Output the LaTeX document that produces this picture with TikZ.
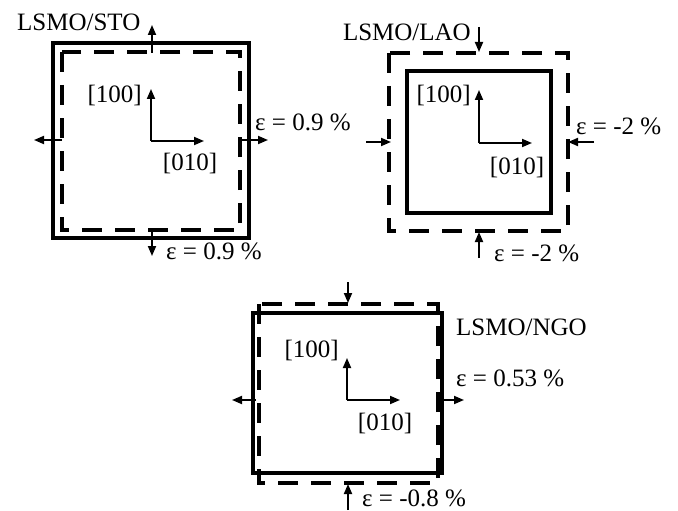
\documentclass[tikz,border=0pt]{standalone}
\usepackage{fontspec}
\setmainfont{Liberation Serif}
\usetikzlibrary{arrows.meta}

\begin{document}
\begin{tikzpicture}[x=1pt,y=-1pt,
  every node/.style={font=\fontsize{25}{29}\selectfont,inner sep=0pt},
  film/.style={line width=4pt},
  subst/.style={line width=4pt,dash pattern=on 20pt off 13pt},
  strain/.style={-{Triangle[length=10pt,width=8pt]},line width=1.8pt},
  axis/.style={-{Triangle[length=10pt,width=8pt]},line width=1.8pt}]
\useasboundingbox (0,0) rectangle (678,511);

% LSMO/STO: tensile
\draw[film] (53,43) rectangle (249,238);
\draw[subst] (62,52) rectangle (240,230);
\coordinate (sto-o) at (151,141);
\coordinate (sto-a) at (151,89);
\coordinate (sto-b) at (204,141);
\draw[axis] (sto-o) -- (sto-a);
\draw[axis] (sto-o) -- (sto-b);
\node[anchor=east] (sto-100) at (142,95) {[100]};
\node (sto-010) at (190,163) {[010]};
\coordinate (sto-t0) at (152,53);  \coordinate (sto-t1) at (152,25);
\coordinate (sto-d0) at (152,229); \coordinate (sto-d1) at (152,256);
\coordinate (sto-l0) at (62,140);  \coordinate (sto-l1) at (34,140);
\coordinate (sto-r0) at (240,140); \coordinate (sto-r1) at (268,140);
\draw[strain] (sto-t0) -- (sto-t1);
\draw[strain] (sto-d0) -- (sto-d1);
\draw[strain] (sto-l0) -- (sto-l1);
\draw[strain] (sto-r0) -- (sto-r1);
\node[anchor=west] (sto-name) at (17,22) {LSMO/STO};
\node[anchor=west] (sto-ex) at (255,122) {ε = 0.9 \%};
\node[anchor=west] (sto-ey) at (166,251) {ε = 0.9 \%};

% LSMO/LAO: compressive
\draw[film] (407,71) rectangle (551,213);
\draw[subst] (389,53) rectangle (568,231);
\coordinate (lao-o) at (479,143);
\coordinate (lao-a) at (479,90);
\coordinate (lao-b) at (532,143);
\draw[axis] (lao-o) -- (lao-a);
\draw[axis] (lao-o) -- (lao-b);
\node[anchor=east] (lao-100) at (471,95) {[100]};
\node (lao-010) at (517,167) {[010]};
\coordinate (lao-t0) at (479,27);  \coordinate (lao-t1) at (479,52);
\coordinate (lao-d0) at (479,258); \coordinate (lao-d1) at (479,232);
\coordinate (lao-l0) at (366,142); \coordinate (lao-l1) at (391,142);
\coordinate (lao-r0) at (594,142); \coordinate (lao-r1) at (568,142);
\draw[strain] (lao-t0) -- (lao-t1);
\draw[strain] (lao-d0) -- (lao-d1);
\draw[strain] (lao-l0) -- (lao-l1);
\draw[strain] (lao-r0) -- (lao-r1);
\node[anchor=east] (lao-name) at (471,32) {LSMO/LAO};
\node[anchor=west] (lao-ex) at (576,126) {ε = -2 \%};
\node[anchor=west] (lao-ey) at (494,253) {ε = -2 \%};

% LSMO/NGO: mixed
\draw[film] (253,313) rectangle (442,473);
\draw[subst] (259,304) rectangle (438,483);
\coordinate (ngo-o) at (347,400);
\coordinate (ngo-a) at (347,358);
\coordinate (ngo-b) at (400,400);
\draw[axis] (ngo-o) -- (ngo-a);
\draw[axis] (ngo-o) -- (ngo-b);
\node[anchor=east] (ngo-100) at (339,350) {[100]};
\node (ngo-010) at (385,423) {[010]};
\coordinate (ngo-t0) at (348,282); \coordinate (ngo-t1) at (348,303);
\coordinate (ngo-d0) at (348,510); \coordinate (ngo-d1) at (348,484);
\coordinate (ngo-l0) at (256,400); \coordinate (ngo-l1) at (232,400);
\coordinate (ngo-r0) at (440,400); \coordinate (ngo-r1) at (464,400);
\draw[strain] (ngo-t0) -- (ngo-t1);
\draw[strain] (ngo-d0) -- (ngo-d1);
\draw[strain] (ngo-l0) -- (ngo-l1);
\draw[strain] (ngo-r0) -- (ngo-r1);
\node[anchor=west] (ngo-name) at (456,327) {LSMO/NGO};
\node[anchor=west] (ngo-ex) at (456,378) {ε = 0.53 \%};
\node[anchor=west] (ngo-ey) at (362,498) {ε = -0.8 \%};
\end{tikzpicture}
\end{document}
